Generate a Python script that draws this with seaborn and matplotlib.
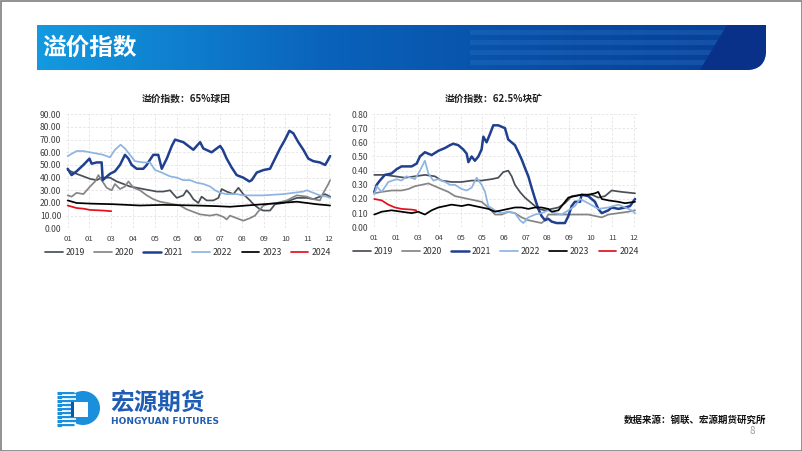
import numpy as np
import pandas as pd
import matplotlib
matplotlib.use("Agg")
import matplotlib.pyplot as plt
import seaborn as sns
from matplotlib.path import Path
from matplotlib.patches import PathPatch, Polygon, Circle, Rectangle
from matplotlib.lines import Line2D

# ---------------- data ----------------
month_labels = ["01", "01", "03", "04", "05", "05", "06", "07", "08", "09", "10", "11", "12"]
years = ["2019", "2020", "2021", "2022", "2023", "2024"]

# 65% pellet premium index: (position on month axis, value)
pellet_2019 = [(0, 46), (0.41, 43), (0.72, 41), (1.03, 39), (1.33, 38), (1.56, 40), (1.94, 40), (2.25, 37),
               (2.56, 35), (2.86, 33), (3.17, 32), (3.47, 31), (3.78, 30), (4.09, 29), (4.39, 29), (4.70, 30),
               (4.85, 27), (5.01, 24), (5.31, 26), (5.46, 30), (5.62, 27), (5.77, 23), (6.0, 20), (6.15, 25),
               (6.38, 22), (6.69, 22), (6.92, 24), (7.07, 31), (7.30, 29), (7.61, 27), (7.84, 32), (8.06, 27),
               (8.37, 22), (8.53, 19), (8.83, 15), (8.99, 14), (9.29, 14), (9.52, 19), (9.90, 20), (10.21, 22),
               (10.52, 24), (10.98, 24), (11.28, 23), (11.58, 25), (11.82, 27), (12.05, 25)]
pellet_2020 = [(0, 26), (0.18, 25), (0.41, 28), (0.72, 27), (1.03, 33), (1.26, 37), (1.41, 42), (1.56, 38),
               (1.79, 32), (2.02, 30), (2.17, 35), (2.40, 31), (2.63, 33), (2.79, 37), (3.02, 32), (3.32, 30),
               (3.63, 26), (3.93, 23), (4.24, 21), (4.55, 20), (4.85, 19), (5.16, 18), (5.46, 15), (5.77, 13),
               (6.08, 11), (6.54, 10), (6.84, 11), (7.15, 9), (7.30, 7), (7.45, 10), (7.76, 8), (8.06, 6),
               (8.37, 8), (8.60, 10), (8.83, 15), (8.99, 18), (9.21, 19), (9.60, 20), (10.06, 22), (10.52, 26),
               (10.98, 25), (11.28, 23), (11.58, 22), (11.74, 28), (11.97, 35), (12.05, 38)]
pellet_2021 = [(0, 47), (0.18, 42), (0.41, 45), (0.72, 50), (1.0, 55), (1.10, 51), (1.33, 52), (1.56, 52),
               (1.61, 38), (1.94, 43), (2.17, 45), (2.40, 50), (2.63, 58), (2.79, 55), (2.94, 50), (3.17, 47),
               (3.47, 47), (3.63, 50), (3.70, 52), (3.93, 58), (4.16, 58), (4.32, 47), (4.55, 55), (4.78, 65),
               (4.93, 70), (5.31, 68), (5.54, 65), (5.77, 62), (6.08, 68), (6.23, 63), (6.61, 60), (6.84, 63),
               (7.0, 65), (7.12, 62), (7.30, 55), (7.53, 48), (7.76, 42), (8.06, 40), (8.34, 37), (8.45, 38),
               (8.68, 44), (8.99, 46), (9.29, 47), (9.52, 55), (9.75, 63), (9.98, 70), (10.18, 77), (10.36, 75),
               (10.59, 68), (10.82, 62), (11.05, 55), (11.28, 53), (11.58, 52), (11.82, 50), (11.89, 52),
               (12.05, 57)]
pellet_2022 = [(0, 57), (0.41, 61), (0.72, 61), (1.03, 60), (1.33, 59), (1.64, 58), (1.94, 56), (2.17, 62),
               (2.43, 66), (2.63, 63), (2.86, 58), (3.09, 53), (3.47, 52), (3.78, 52), (4.01, 46), (4.32, 44),
               (4.70, 41), (5.01, 40), (5.31, 38), (5.62, 38), (5.92, 36), (6.23, 35), (6.54, 33), (6.77, 30),
               (7.0, 28), (7.30, 27), (7.76, 27), (8.06, 26), (8.99, 26), (9.90, 27), (10.36, 28), (10.82, 29),
               (10.98, 30), (11.28, 28), (11.58, 26), (11.89, 25), (12.05, 24)]
pellet_2023 = [(0, 22), (0.41, 20), (1.03, 19.5), (2.10, 19), (3.32, 18), (4.39, 18.5), (5.92, 18), (6.84, 17.5),
               (7.45, 17), (8.22, 18), (8.99, 19), (9.75, 20), (10.52, 21), (10.98, 20), (11.43, 19), (12.05, 18)]
pellet_2024 = [(0, 18), (0.41, 16), (0.72, 15.5), (1.03, 14.5), (1.64, 14), (2.0, 13.5)]

# 62.5% lump premium index
lump_2019 = [(0, 0.37), (0.49, 0.37), (0.96, 0.36), (1.42, 0.35), (1.88, 0.36), (2.34, 0.37), (2.80, 0.36),
             (3.11, 0.33), (3.57, 0.32), (4.04, 0.32), (4.50, 0.33), (4.96, 0.33), (5.42, 0.34), (5.73, 0.35),
             (5.96, 0.39), (6.19, 0.40), (6.35, 0.36), (6.50, 0.30), (6.73, 0.25), (6.96, 0.21), (7.27, 0.17),
             (7.58, 0.13), (7.89, 0.12), (8.20, 0.13), (8.51, 0.14), (8.81, 0.17), (9.12, 0.22), (9.58, 0.23),
             (10.05, 0.23), (10.35, 0.21), (10.66, 0.22), (10.97, 0.26), (11.43, 0.25), (12.05, 0.24)]
lump_2020 = [(0, 0.24), (0.34, 0.25), (0.80, 0.26), (1.26, 0.26), (1.57, 0.27), (1.88, 0.29), (2.19, 0.30),
             (2.50, 0.31), (2.80, 0.29), (3.11, 0.27), (3.42, 0.25), (3.73, 0.22), (4.04, 0.21), (4.35, 0.20),
             (4.65, 0.19), (4.96, 0.18), (5.27, 0.14), (5.58, 0.09), (5.89, 0.09), (6.19, 0.11), (6.50, 0.10),
             (6.81, 0.07), (7.12, 0.05), (7.43, 0.04), (7.73, 0.03), (7.89, 0.05), (8.04, 0.09), (8.97, 0.09),
             (9.89, 0.09), (10.20, 0.08), (10.51, 0.07), (10.82, 0.09), (11.28, 0.10), (11.74, 0.11), (12.05, 0.12)]
lump_2021 = [(0, 0.25), (0.11, 0.30), (0.26, 0.33), (0.49, 0.37), (0.80, 0.38), (1.03, 0.41), (1.26, 0.43),
             (1.73, 0.43), (1.96, 0.45), (2.11, 0.50), (2.34, 0.53), (2.65, 0.51), (2.96, 0.54), (3.27, 0.56),
             (3.50, 0.58), (3.65, 0.59), (3.88, 0.58), (4.11, 0.55), (4.27, 0.52), (4.35, 0.46), (4.50, 0.50),
             (4.65, 0.47), (4.81, 0.50), (4.96, 0.55), (5.04, 0.64), (5.19, 0.60), (5.35, 0.66), (5.50, 0.72),
             (5.73, 0.72), (6.04, 0.70), (6.19, 0.62), (6.50, 0.58), (6.66, 0.53), (6.81, 0.48), (6.96, 0.42),
             (7.12, 0.36), (7.27, 0.28), (7.43, 0.20), (7.58, 0.13), (7.73, 0.08), (7.89, 0.05), (8.04, 0.06),
             (8.20, 0.04), (8.43, 0.03), (8.81, 0.03), (8.97, 0.08), (9.12, 0.15), (9.27, 0.18), (9.51, 0.18),
             (9.58, 0.23), (9.89, 0.22), (10.20, 0.18), (10.35, 0.13), (10.51, 0.10), (10.82, 0.12),
             (10.97, 0.14), (11.28, 0.13), (11.59, 0.14), (11.82, 0.15), (12.05, 0.20)]
lump_2022 = [(0, 0.23), (0.11, 0.29), (0.34, 0.25), (0.65, 0.32), (1.03, 0.34), (1.26, 0.33), (1.49, 0.36),
             (1.88, 0.34), (2.11, 0.40), (2.34, 0.47), (2.50, 0.38), (2.73, 0.33), (2.96, 0.34), (3.27, 0.32),
             (3.50, 0.30), (3.73, 0.30), (4.04, 0.27), (4.27, 0.26), (4.50, 0.28), (4.73, 0.35), (4.96, 0.30),
             (5.12, 0.25), (5.27, 0.15), (5.58, 0.12), (5.89, 0.10), (6.19, 0.11), (6.50, 0.10), (6.73, 0.05),
             (6.89, 0.03), (7.12, 0.07), (7.43, 0.09), (7.73, 0.10), (8.04, 0.12), (8.35, 0.10), (8.66, 0.09),
             (8.97, 0.12), (9.27, 0.15), (9.51, 0.20), (9.89, 0.17), (10.35, 0.13), (10.82, 0.14), (11.28, 0.16),
             (11.59, 0.14), (11.89, 0.12), (12.05, 0.10)]
lump_2023 = [(0, 0.09), (0.18, 0.10), (0.34, 0.11), (0.80, 0.12), (1.26, 0.11), (1.73, 0.10), (2.03, 0.11),
             (2.34, 0.09), (2.65, 0.12), (2.96, 0.14), (3.27, 0.15), (3.57, 0.16), (4.04, 0.15), (4.35, 0.16),
             (4.65, 0.15), (4.96, 0.14), (5.27, 0.13), (5.58, 0.11), (5.89, 0.12), (6.19, 0.13), (6.50, 0.14),
             (6.81, 0.14), (7.12, 0.13), (7.43, 0.14), (7.73, 0.14), (8.04, 0.13), (8.20, 0.11), (8.51, 0.12),
             (8.81, 0.18), (8.97, 0.21), (9.27, 0.22), (9.58, 0.23), (9.89, 0.23), (10.20, 0.24), (10.35, 0.25),
             (10.51, 0.20), (10.82, 0.19), (11.28, 0.18), (11.59, 0.17), (12.05, 0.18)]
lump_2024 = [(0, 0.20), (0.34, 0.19), (0.65, 0.16), (0.96, 0.14), (1.26, 0.13), (1.73, 0.125), (1.94, 0.12)]

pellet_title = "溢价指数：65%球团"
lump_title = "溢价指数：62.5%块矿"
page_title = "溢价指数"
source_text = "数据来源：钢联、宏源期货研究所"

# ---------------- style ----------------
sns.set_theme(style="white")
plt.rcParams["font.family"] = ["Noto Sans CJK SC", "DejaVu Sans"]
colors = {"2019": "#4a4f57", "2020": "#858585", "2021": "#1f3f8f",
          "2022": "#8db4e2", "2023": "#000000", "2024": "#e3101e"}
widths = {"2019": 1.25, "2020": 1.25, "2021": 1.8, "2022": 1.25, "2023": 1.25, "2024": 1.25}

W, H = 802, 451
fig = plt.figure(figsize=(W / 100, H / 100), dpi=100)
fig.patch.set_facecolor("white")

# ---------- decoration layer (pixel coordinates) ----------
deco = fig.add_axes([0, 0, 1, 1], zorder=-1)
deco.set_xlim(0, W)
deco.set_ylim(H, 0)
deco.axis("off")

# banner gradient
stops = [(0.0, (0x13, 0x9a, 0xe0)), (0.4, (0x0a, 0x62, 0xba)), (0.75, (0x08, 0x4a, 0xa2)), (1.0, (0x07, 0x3e, 0x96))]
xs = np.linspace(0, 1, 400)
grad = np.zeros((1, 400, 3))
for c in range(3):
    grad[0, :, c] = np.interp(xs, [s[0] for s in stops], [s[1][c] / 255 for s in stops])
bx0, bx1, by0, by1, rad = 37, 766, 25, 70, 20
im = deco.imshow(grad, extent=(bx0, bx1, by1, by0), aspect="auto", zorder=1)
verts = [(bx0, by0), (bx1, by0), (bx1, by1 - rad), (bx1, by1), (bx1 - rad, by1), (bx0, by1), (bx0, by0)]
codes = [Path.MOVETO, Path.LINETO, Path.LINETO, Path.CURVE3, Path.CURVE3, Path.LINETO, Path.CLOSEPOLY]
clip = PathPatch(Path(verts, codes), transform=deco.transData, facecolor="none", edgecolor="none")
deco.add_patch(clip)
im.set_clip_path(clip)


def edge_x(y):
    # slanted boundary of dark end-cap
    return 700 + 27 * (by1 - y) / (by1 - by0)


for (ya, yb) in [(30, 35), (40, 45), (50, 55), (60, 65)]:
    p = Polygon([(470, ya), (edge_x(ya), ya), (edge_x(yb), yb), (470, yb)], closed=True,
                facecolor="#2f78c8", edgecolor="none", alpha=0.3, zorder=2)
    deco.add_patch(p)
    p.set_clip_path(clip)
cap = Polygon([(edge_x(by0), by0), (bx1, by0), (bx1, by1), (edge_x(by1), by1)], closed=True,
              facecolor="#0a3189", edgecolor="none", zorder=3)
deco.add_patch(cap)
cap.set_clip_path(clip)
deco.text(42, 48, page_title, color="white", fontsize=17, fontweight="bold", va="center", ha="left", zorder=5)

# logo
deco.add_patch(Circle((83, 408), 17, facecolor="#1a8fdc", edgecolor="none", zorder=2))
for yy in range(393, 426, 4):
    deco.plot([57, 74], [yy, yy], color="#1a8fdc", lw=2.2, solid_capstyle="butt", zorder=2)
    deco.plot([62, 76], [yy + 2, yy + 2], color="white", lw=1.2, solid_capstyle="butt", zorder=3)
deco.add_patch(Rectangle((73, 402), 15, 15, facecolor="white", edgecolor="none", zorder=4))
deco.add_patch(Rectangle((71, 402), 2.5, 15, facecolor="#0b56b0", edgecolor="none", zorder=4))
deco.text(110, 402.5, "宏源期货", color="#1f5db4", fontsize=17, fontweight="bold", va="center", ha="left", zorder=5)
deco.text(111, 421.5, "HONGYUAN FUTURES", color="#1f5db4", fontsize=6.5, fontweight="bold",
          family="DejaVu Sans", va="center", ha="left", zorder=5)

deco.text(766, 420, source_text, color="#111111", fontsize=6.8, fontweight="bold", va="center", ha="right")
deco.text(752, 431, "8", color="#9a9a9a", fontsize=7, va="center", ha="center")

# border
deco.add_patch(Rectangle((0.5, 0.5), W - 1, H - 1, facecolor="none", edgecolor="#7f7f7f", lw=1.2, zorder=10))


# ---------- charts ----------
def draw_chart(rect, series, ymax, ystep, fmt, title, title_x, legend_dx):
    ax = fig.add_axes(rect)
    for yr, pts in zip(years, series):
        df = pd.DataFrame(pts, columns=["t", "v"])
        sns.lineplot(data=df, x="t", y="v", ax=ax, color=colors[yr], lw=widths[yr],
                     estimator=None, sort=False, legend=False)
    ax.set_xlim(-0.1, 12.15)
    ax.set_ylim(0, ymax)
    ax.set_xticks(range(13))
    ax.set_xticklabels(month_labels)
    yt = np.arange(0, ymax + ystep / 2, ystep)
    ax.set_yticks(yt)
    ax.set_yticklabels([fmt.format(v) for v in yt])
    ax.tick_params(axis="both", labelsize=6.2, length=0, colors="#404040", pad=3)
    ax.tick_params(axis="x", pad=5, labelsize=5.6)
    ax.grid(True, color="#e3e3e3", lw=0.6, linestyle=(0, (3, 2)))
    for s in ax.spines.values():
        s.set_visible(False)
    ax.set_xlabel("")
    ax.set_ylabel("")
    handles = [Line2D([0], [0], color=colors[y], lw=widths[y]) for y in years]
    ax.legend(handles, years, loc="center", bbox_to_anchor=(0.5 + legend_dx, -0.215), ncol=6,
              frameon=False, fontsize=6.3, handlelength=2.0, handletextpad=0.35, columnspacing=1.05,
              labelcolor="#303030")
    fig.text(title_x / W, 1 - 98.5 / H, title, fontsize=7, fontweight="bold", ha="center", va="center",
             color="#222222")
    return ax


draw_chart([65.5 / W, 1 - 228.3 / H, 266.8 / W, 114 / H],
           [pellet_2019, pellet_2020, pellet_2021, pellet_2022, pellet_2023, pellet_2024],
           90, 10, "{:.2f}", pellet_title, 186, -0.041)
draw_chart([372.1 / W, 1 - 227.3 / H, 265.1 / W, 113.3 / H],
           [lump_2019, lump_2020, lump_2021, lump_2022, lump_2023, lump_2024],
           0.8, 0.1, "{:.2f}", lump_title, 493.5, -0.033)

fig.savefig("out.png", dpi=100, facecolor="white")
